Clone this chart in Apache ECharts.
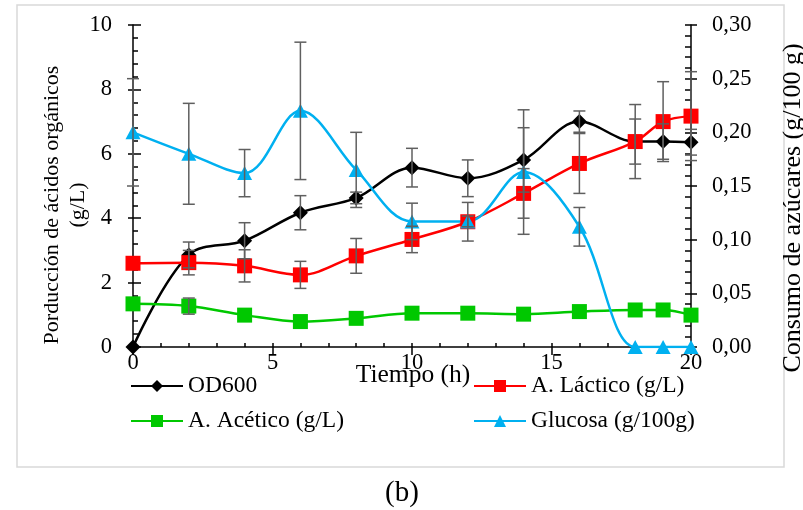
<!DOCTYPE html>
<html>
<head>
<meta charset="utf-8">
<script src="https://cdn.jsdelivr.net/npm/echarts@6/dist/echarts.min.js"></script>
<style>html,body{margin:0;padding:0;background:#fff;}#c{width:803px;height:510px;}</style>
</head>
<body>
<div id="c"></div>
<script>
// ---- data ----
const times = [0, 2, 4, 6, 8, 10, 12, 14, 16, 18, 19, 20];
const od600 = [0, 2.86, 3.3, 4.17, 4.63, 5.57, 5.24, 5.81, 7.0, 6.38, 6.38, 6.36];
const od600Err = [0, 0.4, 0.56, 0.53, 0.18, 0.6, 0.57, 1.0, 0.33, 0.7, 0.55, 0.4];
const lactico = [2.6, 2.62, 2.52, 2.24, 2.83, 3.34, 3.89, 4.77, 5.7, 6.38, 7.0, 7.17];
const lacticoErr = [0, 0.38, 0.5, 0.42, 0.54, 0.41, 0.6, 0.77, 0.93, 1.15, 1.24, 1.38];
const acetico = [1.34, 1.27, 0.99, 0.79, 0.89, 1.05, 1.05, 1.02, 1.10, 1.15, 1.15, 0.99];
const aceticoErr = [0, 0.25, 0, 0, 0, 0, 0, 0, 0, 0, 0, 0];
const glucosa = [0.20, 0.18, 0.162, 0.22, 0.165, 0.117, 0.117, 0.163, 0.112, 0, 0, 0];
const glucosaErr = [0.05, 0.047, 0.022, 0.064, 0.035, 0.017, 0.005, 0.058, 0.018, 0, 0, 0];
const seriesNames = ['OD600', 'A. Láctico (g/L)', 'A. Acético (g/L)', 'Glucosa (g/100g)'];
const leftTitle = 'Porducción de ácidos orgánicos\n(g/L)';
const rightTitle = 'Consumo de azúcares (g/100 g)';
const xTitle = 'Tiempo (h)';
const panelLabel = '(b)';

const FONT = "'Liberation Serif','Times New Roman',serif";
const pts = (vals) => times.map((t, i) => [t, vals[i]]);
const errData = (vals, errs) => times.map((t, i) => [t, vals[i] - errs[i], vals[i] + errs[i], errs[i]]).filter(d => d[3] > 0);

function errRender(params, api) {
  const x = api.value(0), lo = api.value(1), hi = api.value(2);
  const a = api.coord([x, hi]), b = api.coord([x, lo]);
  const w = 6, st = {stroke: '#5f5f5f', lineWidth: 1.5};
  return {type: 'group', children: [
    {type: 'line', shape: {x1: a[0], y1: a[1], x2: b[0], y2: b[1]}, style: st},
    {type: 'line', shape: {x1: a[0] - w, y1: a[1], x2: a[0] + w, y2: a[1]}, style: st},
    {type: 'line', shape: {x1: b[0] - w, y1: b[1], x2: b[0] + w, y2: b[1]}, style: st}
  ]};
}
function errSeries(vals, errs, yIdx) {
  return {type: 'custom', xAxisIndex: 0, yAxisIndex: yIdx, renderItem: errRender,
    data: errData(vals, errs), encode: {x: 0, y: [1, 2]}, z: 5, silent: true, clip: false};
}
function lineSeries(name, vals, yIdx, color, symbol, size) {
  return {type: 'line', name: name, xAxisIndex: 0, yAxisIndex: yIdx, data: pts(vals),
    smooth: 0.35, symbol: symbol, symbolSize: size, showSymbol: true,
    lineStyle: {color: color, width: 2.5}, itemStyle: {color: color, borderWidth: 0},
    z: 3, animation: false};
}

const axisLineStyle = {color: '#000', width: 1.5};
const lab = {fontFamily: FONT, fontSize: 22.5, color: '#000'};

const chart = echarts.init(document.getElementById('c'), null, {renderer: 'canvas'});
const legendCommon = {itemWidth: 52, itemHeight: 15, itemGap: 5,
  textStyle: {fontFamily: FONT, fontSize: 23.5, color: '#000', padding: [0, 0, 0, 0]}, padding: 0};
chart.setOption({
  animation: false,
  backgroundColor: '#fff',
  grid: {left: 133, right: 112, top: 25, bottom: 163, containLabel: false},
  xAxis: [
    {type: 'value', min: 0, max: 20, interval: 5, position: 'bottom',
      axisLine: {show: true, onZero: false, lineStyle: axisLineStyle},
      axisTick: {show: true, inside: false, length: 8, lineStyle: axisLineStyle},
      axisLabel: Object.assign({margin: 5}, lab), splitLine: {show: false}},
    {type: 'value', min: 0, max: 20, interval: 5, position: 'bottom',
      axisLine: {show: false, onZero: false},
      axisTick: {show: true, inside: true, length: 4, lineStyle: axisLineStyle},
      minorTick: {show: true, splitNumber: 5, length: 4, lineStyle: {color: '#000', width: 1.5}},
      axisLabel: {show: false}, splitLine: {show: false}}
  ],
  yAxis: [
    {type: 'value', min: 0, max: 10, interval: 2, position: 'left',
      axisLine: {show: true, onZero: false, lineStyle: axisLineStyle},
      axisTick: {show: true, inside: false, length: 5, lineStyle: axisLineStyle},
      axisLabel: Object.assign({margin: 21}, lab), splitLine: {show: false}},
    {type: 'value', min: 0, max: 0.3, interval: 0.05, position: 'right',
      axisLine: {show: true, onZero: false, lineStyle: axisLineStyle},
      axisTick: {show: true, inside: false, length: 6, lineStyle: axisLineStyle},
      axisLabel: Object.assign({margin: 21, formatter: v => v.toFixed(2).replace('.', ',')}, lab),
      splitLine: {show: false}},
    {type: 'value', min: 0, max: 10, interval: 2, position: 'left',
      axisLine: {show: false, onZero: false},
      axisTick: {show: true, inside: true, length: 8, lineStyle: axisLineStyle},
      minorTick: {show: true, splitNumber: 5, length: 5, lineStyle: {color: '#000', width: 1.5}},
      axisLabel: {show: false}, splitLine: {show: false}},
    {type: 'value', min: 0, max: 0.3, interval: 0.05, position: 'right',
      axisLine: {show: false, onZero: false},
      axisTick: {show: true, inside: true, length: 6, lineStyle: axisLineStyle},
      minorTick: {show: true, splitNumber: 5, length: 6, lineStyle: {color: '#000', width: 1.5}},
      axisLabel: {show: false}, splitLine: {show: false}}
  ],
  legend: [
    Object.assign({data: [seriesNames[0]], left: 130, top: 374}, legendCommon),
    Object.assign({data: [seriesNames[1]], left: 473, top: 374}, legendCommon),
    Object.assign({data: [seriesNames[2]], left: 130, top: 409}, legendCommon),
    Object.assign({data: [seriesNames[3]], left: 473, top: 409}, legendCommon)
  ],
  graphic: [
    {type: 'rect', shape: {x: 17, y: 5, width: 767, height: 462}, style: {fill: 'none', stroke: '#d9d9d9', lineWidth: 1.5}, z: -10, silent: true},
    {type: 'text', x: 413, y: 375, style: {text: xTitle, fontFamily: FONT, fontSize: 25.5, fill: '#000', align: 'center', verticalAlign: 'middle'}},
    {type: 'text', x: 65, y: 205, rotation: Math.PI / 2, style: {text: leftTitle, fontFamily: FONT, fontSize: 22, lineHeight: 26, fill: '#000', align: 'center', verticalAlign: 'middle'}},
    {type: 'text', x: 793, y: 208, rotation: Math.PI / 2, style: {text: rightTitle, fontFamily: FONT, fontSize: 26, fill: '#000', align: 'center', verticalAlign: 'middle'}},
    {type: 'text', x: 402, y: 493, style: {text: panelLabel, fontFamily: FONT, fontSize: 29, fill: '#000', align: 'center', verticalAlign: 'middle'}}
  ],
  series: [
    lineSeries(seriesNames[0], od600, 0, '#000000', 'diamond', 15),
    lineSeries(seriesNames[1], lactico, 0, '#ff0000', 'rect', 15),
    lineSeries(seriesNames[2], acetico, 0, '#00c800', 'rect', 15),
    lineSeries(seriesNames[3], glucosa, 1, '#00b0f0', 'triangle', [15, 14]),
    errSeries(od600, od600Err, 0),
    errSeries(lactico, lacticoErr, 0),
    errSeries(acetico, aceticoErr, 0),
    errSeries(glucosa, glucosaErr, 1)
  ]
});
</script>
</body>
</html>
